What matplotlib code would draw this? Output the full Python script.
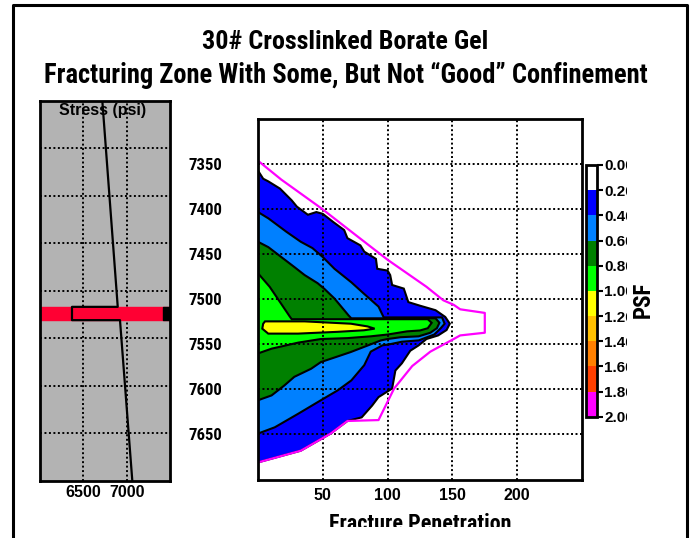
import matplotlib
matplotlib.use("Agg")
from pathlib import Path
import matplotlib.pyplot as plt
from matplotlib import font_manager
from matplotlib.font_manager import FontProperties
from matplotlib.colors import ListedColormap, BoundaryNorm
from matplotlib.cm import ScalarMappable
from matplotlib.lines import Line2D
from matplotlib.transforms import Bbox

# ---- data ----
depth_ticks = [7350, 7400, 7450, 7500, 7550, 7600, 7650]
pen_ticks = [50, 100, 150, 200]
stress_ticks = [6500, 7000]

# stress profile (left panel)
stress_depth = [7300, 7517, 7517, 7531, 7531, 7700]
stress_psi = [6719, 6897, 6369, 6369, 6923, 7065]
zone_top, zone_bottom = 7517, 7531

# PSF contour levels / colours
psf_levels = [0.0, 0.2, 0.4, 0.6, 0.8, 1.0, 1.2, 1.4, 1.6, 1.8, 2.0]
psf_colors = ['#ffffff', '#0000ff', '#0080ff', '#008000', '#00ff00',
              '#ffff00', '#ffc000', '#ff8000', '#ff4000', '#ff00ff']

# contour outlines (penetration, depth)
blue_pen = [0, 4, 8, 17, 26, 30, 38.5, 45, 50, 58, 66.5, 69, 79, 82, 91, 92, 100, 102,
            103.5, 112.5, 116, 125, 137, 144.5, 148, 145.5, 139, 130, 124, 117.5, 111,
            106, 103.5, 93, 88, 80, 69, 56, 33, 0]
blue_depth = [7357, 7366, 7369, 7377, 7390, 7397, 7406, 7403, 7405, 7414, 7423, 7432,
              7440, 7447, 7455, 7466, 7468, 7473, 7484, 7488, 7503, 7507, 7512, 7519.5,
              7527, 7534, 7540, 7544, 7551, 7557, 7571, 7579, 7599, 7608.5, 7618, 7631,
              7635, 7649, 7668, 7681]

lblue_pen = [0, 8, 22, 33, 42, 50, 59, 72, 82, 93, 97, 142, 144, 141, 136, 124, 111,
             101, 96, 87, 82, 72, 61.5, 48.5, 31, 13, 0]
lblue_depth = [7403, 7410, 7425, 7436, 7443, 7453, 7466, 7481, 7494, 7508, 7520, 7520,
               7527, 7532, 7539, 7545.5, 7547, 7550, 7551, 7558, 7573, 7590, 7601, 7612,
               7627, 7642, 7649]

green_pen = [0, 8, 18, 28, 36, 46, 51, 59, 70, 72, 137, 140, 138, 133, 124, 110, 100,
             94.7, 71.5, 56, 48.5, 41, 28, 20.4, 10.5, 0]
green_depth = [7436, 7442, 7453, 7464, 7473, 7482, 7488, 7499, 7518, 7521, 7521, 7526,
               7532, 7537, 7541, 7542, 7544, 7545.6, 7558.5, 7566, 7569.6, 7577, 7586,
               7595.5, 7606.6, 7612]

lime_pen = [0, 9, 17, 24.5, 26, 131, 134, 131, 125, 115, 100, 87, 69, 48.5, 31, 10.5, 0]
lime_depth = [7471, 7486, 7503, 7519, 7522, 7522, 7526, 7532, 7534.5, 7535.5, 7539,
              7541, 7543, 7544, 7548, 7554.7, 7560]

yellow_pen = [5.4, 36, 71.7, 84.5, 90, 81.7, 61.5, 30.9, 7.9, 3.3, 4]
yellow_depth = [7524.4, 7524.4, 7527, 7530, 7532.5, 7534.3, 7536, 7538, 7538, 7532.5, 7527]

# fracture outline (magenta)
frac_pen = [0, 18, 49, 74, 100, 130, 143, 151, 156, 175, 175, 156, 151, 133, 119, 105,
            93, 69, 56, 33, 0]
frac_depth = [7346, 7367, 7399, 7427, 7456, 7486, 7501, 7506, 7511, 7515, 7537, 7540,
              7544, 7558, 7574, 7599, 7634, 7635, 7649, 7668, 7681]


# ---- fonts: look for a narrow sans, else Liberation Sans ----
def find_narrow():
    prefs = ['liberationsansnarrow', 'arialnarrow', 'robotocondensed',
             'dejavusanscondensed', 'notosanscondensed', 'opensanscondensed']
    entries = font_manager.fontManager.ttflist
    for pref in prefs:
        for f in entries:
            stem = Path(f.fname).stem.lower().replace('-', '').replace('_', '').replace(' ', '')
            if stem.startswith(pref) and stem[len(pref):] == 'bold':
                return FontProperties(fname=f.fname)
    return FontProperties(family='Liberation Sans', weight='bold')


NARROW = find_narrow()
SANS = 'Liberation Sans'

W, H = 691, 538
fig = plt.figure(figsize=(W / 100, H / 100), dpi=100)
renderer = fig.canvas.get_renderer()


def px_axes(x0, y0, x1, y1):
    # pixel box, y measured from the top
    return fig.add_axes([x0 / W, 1 - y1 / H, (x1 - x0) / W, (y1 - y0) / H])


def fit(t, target, along='width'):
    bb = t.get_window_extent(renderer)
    cur = bb.width if along == 'width' else bb.height
    t.set_fontsize(t.get_fontsize() * target / cur)


dots = (0, (1, 1.3))

# ---- outer frame ----
fx = [13.5, 13.5, 686.7, 686.7]
fy = [538, 4.7, 4.7, 538]
fig.add_artist(Line2D([x / W for x in fx], [1 - y / H for y in fy], color='k', lw=2.2,
                      transform=fig.transFigure))

# ---- titles ----
t1 = fig.text(0.5, 1 - 42 / H, '30# Crosslinked Borate Gel', ha='center', va='center',
              fontproperties=NARROW)
t2 = fig.text(0.5, 1 - 75 / H, 'Fracturing Zone With Some, But Not \u201cGood\u201d Confinement',
              ha='center', va='center', fontproperties=NARROW)
fit(t1, 287)
fit(t2, 603)

# ---- left stress panel ----
axs = px_axes(40, 100.7, 170, 480.7)
axs.set_facecolor('#b3b3b3')
axs.set_xlim(6000, 7500)
axs.set_ylim(7700, 7300)
axs.axhspan(zone_top, zone_bottom, color='#ff0033', zorder=2)
axs.fill_betweenx([zone_top, zone_bottom], 7423, 7500, color='k', zorder=3)
axs.plot(stress_psi, stress_depth, color='k', lw=1.6, zorder=4)
axs.set_xticks(stress_ticks)
axs.set_yticks(depth_ticks)
axs.set_axisbelow(True)
axs.grid(True, color='k', ls=dots, lw=1.4)
axs.tick_params(length=0, labelleft=False, pad=3)
for lab in axs.get_xticklabels():
    lab.set_family(SANS)
    lab.set_fontweight('bold')
    lab.set_fontsize(11.5)
for s in axs.spines.values():
    s.set_linewidth(2)
axs.text(0.48, 0.973, 'Stress (psi)', transform=axs.transAxes, ha='center', va='center',
         family=SANS, fontweight='bold', fontsize=11.5, zorder=5)

# ---- main contour panel ----
ax = px_axes(258, 119.3, 582, 479.5)
ax.set_xlim(0, 250)
ax.set_ylim(7700, 7300)
for pen, dep, col in [(blue_pen, blue_depth, psf_colors[1]),
                      (lblue_pen, lblue_depth, psf_colors[2]),
                      (green_pen, green_depth, psf_colors[3]),
                      (lime_pen, lime_depth, psf_colors[4]),
                      (yellow_pen, yellow_depth, psf_colors[5])]:
    ax.fill(pen, dep, facecolor=col, edgecolor='k', lw=1.5, zorder=1)
ax.plot(frac_pen, frac_depth, color='#ff00ff', lw=1.6, zorder=3)
ax.set_xticks(pen_ticks)
ax.set_yticks(depth_ticks)
ax.grid(True, color='k', ls=dots, lw=1.4, zorder=2.5)
ax.tick_params(length=0)
ax.tick_params(axis='x', pad=6)
ax.tick_params(axis='y', pad=26)
for lab in ax.get_xticklabels():
    lab.set_family(SANS)
    lab.set_fontweight('bold')
    lab.set_fontsize(11.5)

probe = fig.text(0, 0, '7350', fontproperties=NARROW)
fit(probe, 34)
ytick_size = probe.get_fontsize()
probe.remove()
for lab in ax.get_yticklabels():
    lab.set_fontproperties(NARROW)
    lab.set_fontsize(ytick_size)
for s in ax.spines.values():
    s.set_linewidth(2)
    s.set_zorder(4)
xl = fig.text(420 / W, 1 - 530 / H, 'Fracture Penetration', ha='center', va='baseline',
              fontproperties=NARROW)
fit(xl, 181)
xl.set_clip_box(Bbox.from_extents(0, H - 527, W, H))

# ---- colour bar ----
cax = px_axes(585.7, 165, 597.3, 416.7)
cmap = ListedColormap(psf_colors)
norm = BoundaryNorm(psf_levels, cmap.N)
cb = fig.colorbar(ScalarMappable(norm=norm, cmap=cmap), cax=cax, ticks=psf_levels,
                  drawedges=True)
cax.invert_yaxis()
cb.outline.set_linewidth(2)
cb.dividers.set_linewidth(1.5)
cax.tick_params(length=4, width=1.5, pad=1)
cax.set_yticklabels(['%.2f' % v for v in psf_levels])
clip = Bbox.from_extents(0, 0, 627, H)
for lab in cax.get_yticklabels():
    lab.set_family(SANS)
    lab.set_fontweight('bold')
    lab.set_fontsize(11)
    lab.set_clip_box(clip)
psf = fig.text(643 / W, 1 - 300 / H, 'PSF', rotation=90, ha='center', va='center',
               fontproperties=NARROW)
fit(psf, 36, along='height')

fig.savefig('out.png', dpi=100)
